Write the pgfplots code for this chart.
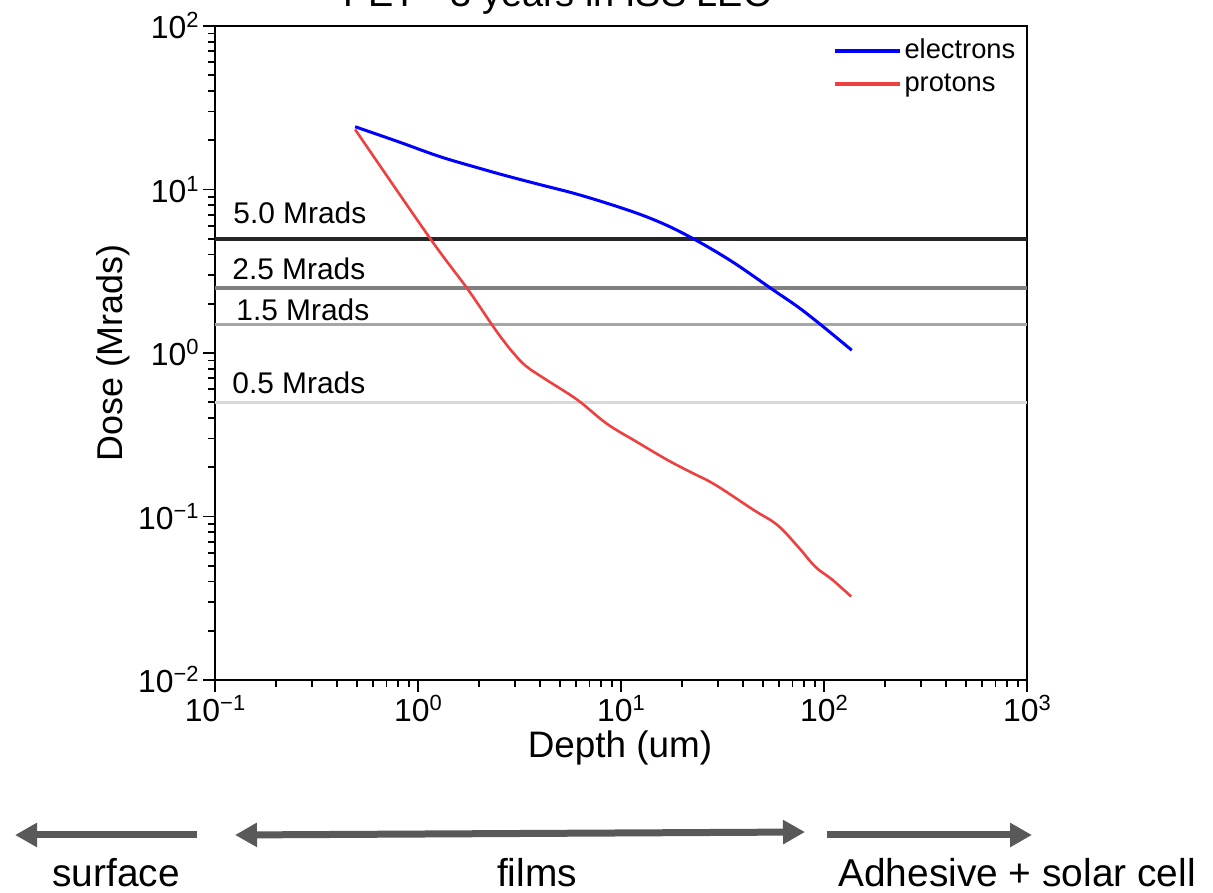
\documentclass[border=0pt]{standalone}
\usepackage{fontspec}
\setmainfont{Liberation Sans}
\usepackage{pgfplots}
\pgfplotsset{compat=1.18}
\usetikzlibrary{arrows.meta}
\definecolor{myred}{RGB}{238,64,64}
\definecolor{myblue}{RGB}{0,0,255}
\definecolor{arrowgray}{RGB}{89,89,89}
\definecolor{l50}{RGB}{38,38,38}
\definecolor{l25}{RGB}{128,128,128}
\definecolor{l15}{RGB}{166,166,166}
\definecolor{l05}{RGB}{217,217,217}
\newcommand{\tl}[1]{\mbox{\fontsize{16}{18}\selectfont 10\raisebox{5.5bp}{\fontsize{11}{13}\selectfont #1}}}
\begin{document}
\begin{tikzpicture}
\begin{axis}[
  /pgf/number format/assume math mode=true,
  at={(107.5bp,106.5bp)}, anchor=south west,
  scale only axis, width=406bp, height=327bp,
  xmode=log, ymode=log,
  xmin=0.1, xmax=1000, ymin=0.01, ymax=100,
  xtick={0.1,1,10,100,1000},
  xticklabels={\tl{−1},\tl{0},\tl{1},\tl{2},\tl{3}},
  minor xtick={0.2,0.3,0.4,0.5,0.6,0.7,0.8,0.9,2,3,4,5,6,7,8,9,20,30,40,50,60,70,80,90,200,300,400,500,600,700,800,900},
  ytick={0.01,0.1,1,10,100},
  yticklabels={\tl{−2},\tl{−1},\tl{0},\tl{1},\tl{2}},
  minor ytick={0.02,0.03,0.04,0.05,0.06,0.07,0.08,0.09,0.2,0.3,0.4,0.5,0.6,0.7,0.8,0.9,2,3,4,5,6,7,8,9,20,30,40,50,60,70,80,90},
  xtick pos=bottom, ytick pos=left, tick align=outside,
  major tick length=6bp, minor tick length=3.5bp,
  axis line style={line width=1bp},
  every tick/.style={line width=0.9bp, black},
  xticklabel style={inner sep=1.5pt},
  yticklabel style={inner sep=2pt},
  legend style={draw=none, fill=none, at={(0.76,0.985)}, anchor=north west,
    font=\fontsize{13.7}{16}\selectfont, row sep=3bp, inner sep=0pt,
    nodes={inner sep=1.5bp}},
  legend cell align=left,
  legend image code/.code={\draw[#1, line width=2bp] (0bp,0bp) -- (32.5bp,0bp);},
]
\addplot[l50, line width=1.8bp, forget plot] coordinates {(0.1,5) (1000,5)};
\addplot[l25, line width=1.6bp, forget plot] coordinates {(0.1,2.5) (1000,2.5)};
\addplot[l15, line width=1.6bp, forget plot] coordinates {(0.1,1.5) (1000,1.5)};
\addplot[l05, line width=1.6bp, forget plot] coordinates {(0.1,0.5) (1000,0.5)};
\addplot[myblue, line width=1.5bp, smooth, tension=0.6] coordinates {
(0.49,24.2) (0.8,19.6) (1.28,15.9) (2.0,13.5) (2.74,12.1) (4.0,10.7) (5.82,9.5)
(8.5,8.25) (12.4,7.05) (17,6.0) (22.7,5.0) (30,4.1) (38.5,3.37) (56.2,2.43)
(75,1.9) (99,1.45) (137,1.04)};
\addlegendentry{electrons}
\addplot[myred, line width=1.3bp, smooth, tension=0.6] coordinates {
(0.49,23.3) (1.15,5.0) (1.74,2.5) (2.33,1.47) (2.65,1.18) (2.95,1.00)
(3.41,0.83) (4.30,0.684) (6.11,0.516) (8.5,0.37) (11.9,0.287) (16.9,0.222)
(22,0.187) (29.2,0.156) (44.8,0.110) (58.9,0.0887) (74.5,0.0653) (90.6,0.0493)
(110,0.041) (136,0.0324)};
\addlegendentry{protons}
\end{axis}
% line labels
\begin{scope}[every node/.style={inner sep=0pt, anchor=base west, font=\fontsize{15}{17}\selectfont}]
\node at (116.5bp,334.5bp) {5.0 Mrads};
\node at (116bp,306.5bp) {2.5 Mrads};
\node at (118bp,286bp) {1.5 Mrads};
\node at (116bp,249.5bp) {0.5 Mrads};
\end{scope}
% title
\node[inner sep=0pt, anchor=base west, font=\fontsize{19}{22}\selectfont] at (171.5bp,443bp) {PET - 3 years in ISS LEO};
% axis labels
\node[inner sep=0pt, anchor=base, font=\fontsize{18.5}{21}\selectfont] at (310bp,67.5bp) {Depth (um)};
\node[inner sep=0pt, anchor=base, rotate=90, font=\fontsize{18}{21}\selectfont] at (61bp,270bp) {Dose (Mrads)};
% bottom arrows
\begin{scope}[arrowgray, line width=3.5bp]
\draw[-{Triangle[length=11bp,width=11.5bp]}] (98.5bp,29bp) -- (7.5bp,29bp);
\draw[{Triangle[length=11bp,width=11.5bp]}-{Triangle[length=11bp,width=11.5bp]}] (117.5bp,29bp) -- (402.5bp,30.5bp);
\draw[-{Triangle[length=11bp,width=11.5bp]}] (413.5bp,29bp) -- (516bp,29bp);
\end{scope}
\begin{scope}[every node/.style={inner sep=0pt, font=\fontsize{19.5}{22}\selectfont}]
\node[anchor=base] at (58bp,3.5bp) {surface};
\node[anchor=base] at (268.5bp,3.5bp) {films};
\node[anchor=base west] at (419bp,3.5bp) {Adhesive + solar cell};
\end{scope}
\pgfresetboundingbox
\useasboundingbox (0,0) rectangle (606.5bp,446.5bp);
\end{tikzpicture}
\end{document}
